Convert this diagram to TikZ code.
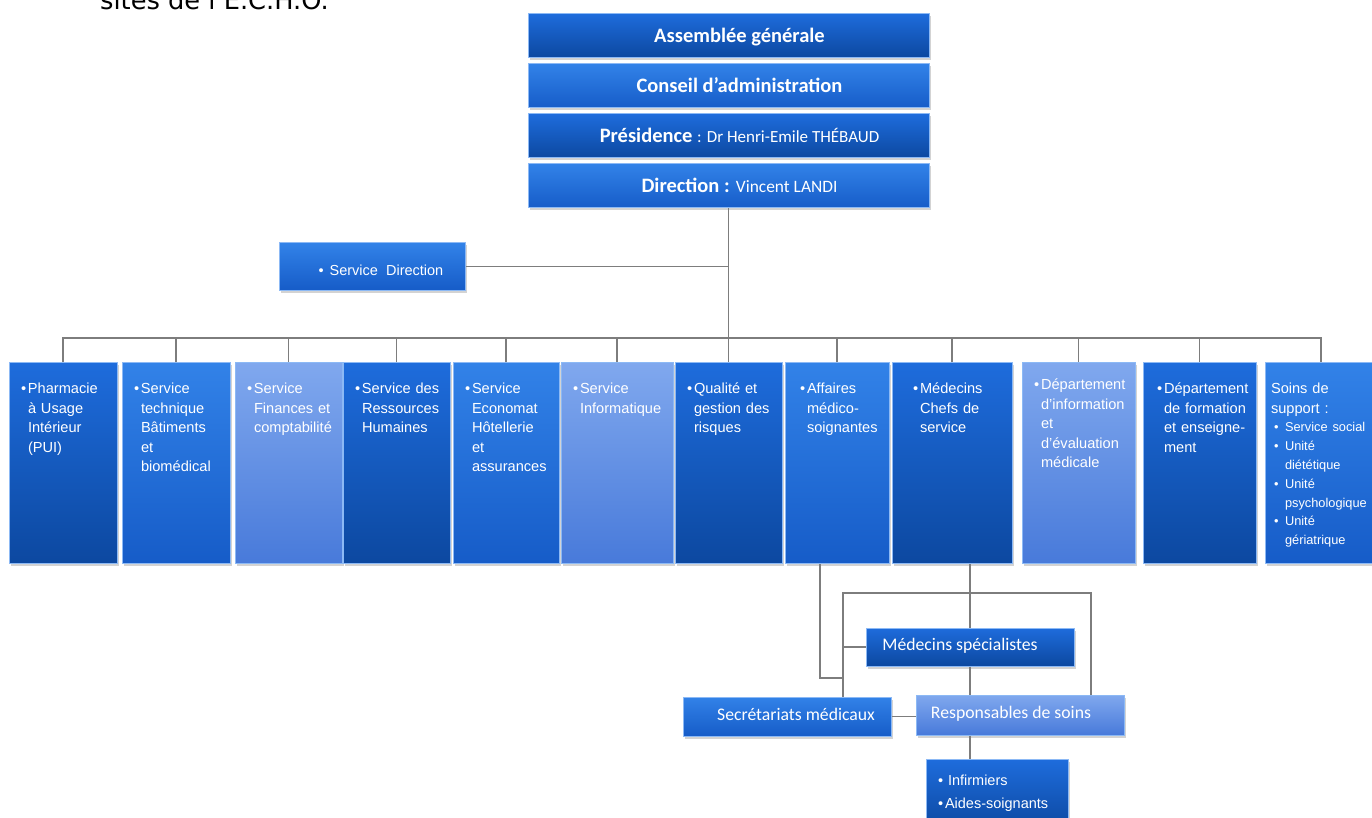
\documentclass[tikz,border=0pt]{standalone}
\usepackage{fontspec}
\setmainfont{Liberation Sans}
\newfontfamily\calibri{Carlito}
\newfontfamily\verdana{DejaVu Sans}
\usetikzlibrary{shadows}

\definecolor{navytop}{RGB}{30,108,220}
\definecolor{navybot}{RGB}{12,72,160}
\definecolor{midtop}{RGB}{50,130,232}
\definecolor{midbot}{RGB}{22,92,200}
\definecolor{paletop}{RGB}{128,168,238}
\definecolor{palebot}{RGB}{72,122,218}
\definecolor{rim}{RGB}{140,185,245}
\definecolor{wire}{RGB}{125,125,125}

\newcommand\bul[1]{\makebox[7pt][l]{•}\begin{tabular}[t]{@{}l@{}}#1\end{tabular}}

\begin{document}
\begin{tikzpicture}[x=1pt, y=-1pt,
    wire/.style={draw=wire, line width=1.4pt},
    box/.style={rectangle, draw=rim, line width=1pt, text=white,
      drop shadow={shadow xshift=1.5pt, shadow yshift=-2.5pt, opacity=.35}},
    navy/.style={top color=navytop, bottom color=navybot},
    mid/.style={top color=midtop, bottom color=midbot},
    pale/.style={top color=paletop, bottom color=palebot},
    head/.style={box, minimum width=401pt, minimum height=44pt, inner sep=0pt,
      text height=14pt, text depth=0pt, font=\calibri\fontsize{20.5}{24}\selectfont,
      execute at begin node=\hspace*{22pt}},
    col/.style={box, anchor=north, inner xsep=12pt, inner ysep=0pt, text width=#1pt-24pt,
      align=left, text height=31pt, text depth=170pt, font=\fontsize{14.6}{19.5}\selectfont},
    staff/.style={box, minimum width=208pt, inner ysep=0pt, text height=11pt, text depth=4pt,
      font=\calibri\fontsize{17.7}{21}\selectfont}]
  \useasboundingbox (0,0) rectangle (1372,818);
  \clip (0,0) rectangle (1372,818);

  % text above the chart
  \node[font=\verdana\fontsize{25.7}{30}\selectfont, anchor=base west, inner sep=0pt] (title) at (100,10) {sites de l’E.C.H.O.};

  % governance
  \node[head, navy] (ag) at (728.5,35.5) {\bfseries Assemblée générale};
  \node[head, mid] (ca) at (728.5,86) {\bfseries Conseil d’administration};
  \node[head, navy] (pres) at (728.5,136) {\textbf{Présidence} {\fontsize{17}{20}\selectfont : Dr Henri-Emile THÉBAUD}};
  \node[head, mid] (dir) at (728.5,186) {\textbf{Direction :} {\fontsize{17.4}{20}\selectfont Vincent LANDI}};
  \node[box, mid, minimum width=186pt, minimum height=47pt, inner sep=0pt, text height=19pt, text depth=0pt,
    font=\fontsize{14.5}{17}\selectfont] (sdir) at (372,266.5) {\hspace*{18pt}\makebox[11pt][l]{•}Service\ \ Direction};

  % services
  \node[col=108, navy] (pui) at (63,362) {\bul{Pharmacie\\à Usage\\Intérieur\\(PUI)}};
  \node[col=108, mid] (tech) at (176,362) {\bul{Service\\technique\\Bâtiments\\et\\biomédical}};
  \node[col=107, pale] (fin) at (288.5,362) {\bul{Service\\Finances et\\comptabilité}};
  \node[col=107, navy] (rh) at (396.5,362) {\bul{Service des\\Ressources\\Humaines}};
  \node[col=106, mid] (eco) at (506,362) {\bul{Service\\Economat\\Hôtellerie\\et\\assurances}};
  \node[col=112, pale] (info) at (617,362) {\bul{Service\\Informatique}};
  \node[col=107, navy] (qual) at (728.5,362) {\bul{Qualité et\\gestion des\\risques}};
  \node[col=104, mid, inner xsep=15pt, text width=74pt] (aff) at (837,362) {\bul{Affaires\\médico-\\soignantes}};
  \node[col=120, navy, inner xsep=21pt, text width=78pt] (med) at (952,362) {\bul{Médecins\\Chefs de\\service}};
  \node[col=113, pale, text height=27pt, text depth=174pt] (dim) at (1078.5,362) {\bul{Département\\d’information\\et\\d’évaluation\\médicale}};
  \node[col=113, navy, inner xsep=14pt, text width=85pt] (form) at (1199.5,362) {\bul{Département\\de formation\\et enseigne-\\ment}};
  \node[col=112, mid, inner xsep=6pt, text width=100pt] (soins) at (1321,362) {Soins de\\support :\par
    {\fontsize{12.8}{18.8}\selectfont
    \hspace*{3pt}\makebox[11pt][l]{•}Service social\\
    \hspace*{3pt}\makebox[11pt][l]{•}Unité\\ \hspace*{14pt}diététique\\
    \hspace*{3pt}\makebox[11pt][l]{•}Unité\\ \hspace*{14pt}psychologique\\
    \hspace*{3pt}\makebox[11pt][l]{•}Unité\\ \hspace*{14pt}gériatrique\par}};

  % care staff
  \node[staff, navy, minimum height=38pt] (spec) at (970,647) {Médecins spécialistes\hspace*{20pt}};
  \node[staff, mid, minimum height=39pt] (sec) at (787,716.5) {\hspace*{18pt}Secrétariats médicaux};
  \node[staff, pale, minimum height=40pt] (resp) at (1020,715) {Responsables de soins\hspace*{18pt}};
  \node[col=142, navy, text height=26pt, text depth=45pt, font=\fontsize{14.5}{23}\selectfont] (inf) at (997,759)
    {\makebox[10pt][l]{•}Infirmiers\\\makebox[7pt][l]{•}Aides-soignants};

  % links
  \coordinate (bus) at (728.5,338);
  \draw[wire] (dir.south) -- (qual.north);
  \draw[wire] (sdir.east) -- (sdir.east -| dir.south);
  \draw[wire] (pui.north) |- (bus) -| (soins.north);
  \draw[wire] (tech.north) -- (tech.north |- bus);
  \draw[wire] (fin.north) -- (fin.north |- bus);
  \draw[wire] (rh.north) -- (rh.north |- bus);
  \draw[wire] (eco.north) -- (eco.north |- bus);
  \draw[wire] (info.north) -- (info.north |- bus);
  \draw[wire] (aff.north) -- (aff.north |- bus);
  \draw[wire] (med.north) -- (med.north |- bus);
  \draw[wire] (dim.north) -- (dim.north |- bus);
  \draw[wire] (form.north) -- (form.north |- bus);

  \coordinate (barL) at (843,593);
  \coordinate (barR) at (1091,593);
  \coordinate (knee) at (843,678);
  \draw[wire] (spec.north |- med.south) -- (spec.north);
  \draw[wire] (spec.south) -- (spec.south |- resp.north);
  \draw[wire] (spec.south |- resp.south) -- (spec.south |- inf.north);
  \draw[wire] (barL |- sec.north) -- (barL) -- (barR) -- (barR |- resp.north);
  \draw[wire] (barL |- spec.west) -- (spec.west);
  \draw[wire] ([xshift=-17pt]aff.south) |- (knee);
  \draw[wire] (sec.east) -- (sec.east -| resp.west);
\end{tikzpicture}
\end{document}
